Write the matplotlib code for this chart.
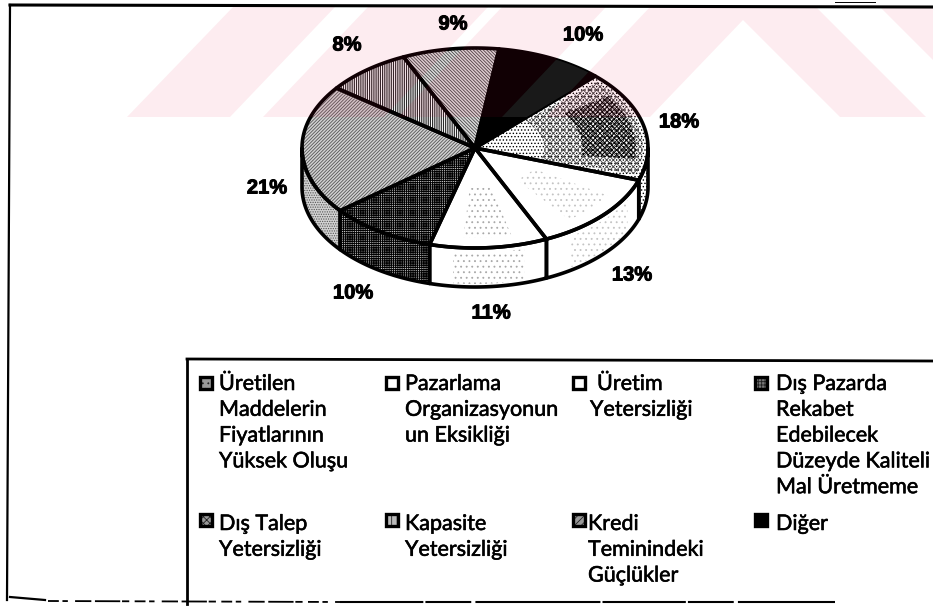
import numpy as np
import matplotlib
matplotlib.use("Agg")
import matplotlib.pyplot as plt
import matplotlib.patheffects as pe
from matplotlib.patches import Polygon, Rectangle

plt.rcParams["font.family"] = ["Lato", "DejaVu Sans"]
plt.rcParams["hatch.linewidth"] = 0.6

# slices clockwise, starting from the black one at the top
pct_values = [10, 18, 13, 11, 10, 21, 8, 9]
pct_labels = ["10%", "18%", "13%", "11%", "10%", "21%", "8%", "9%"]
slice_faces = ["#000000", "#ffffff", "#ffffff", "#ffffff", "#d0d0d0", "#d2d2d2", "#ffffff", "#dddddd"]
slice_hatches = [None, ".....", None, None, "+++++++++", "//////////", "|||||||||", "\\\\\\\\\\\\\\\\\\\\"]
hatch_colors = ["#000000", "#000000", "#000000", "#000000", "#000000", "#555555", "#000000", "#444444"]
wall_hatches = [None, ".....", None, None, "+++++++++", ".......", None, None]
speckle_colors = [None, None, "#c4c4c4", "#a8a8a8", None, None, None, None]

legend_labels = [
    ["Üretilen", "Maddelerin", "Fiyatlarının", "Yüksek Oluşu"],
    ["Pazarlama", "Organizasyonun", "un Eksikliği"],
    ["Üretim", "Yetersizliği"],
    ["Dış Pazarda", "Rekabet", "Edebilecek", "Düzeyde Kaliteli", "Mal Üretmeme"],
    ["Dış Talep", "Yetersizliği"],
    ["Kapasite", "Yetersizliği"],
    ["Kredi", "Teminindeki", "Güçlükler"],
    ["Diğer"],
]
legend_faces = ["#999999", "#ffffff", "#ffffff", "#777777", "#999999", "#bbbbbb", "#999999", "#000000"]
legend_hatches = ["...", None, None, "+++++", "xxxxx", "|||", "/////", None]

# layout, in pixels of the 933x607 picture
cx, cy, rx, ry, depth = 475, 148, 173, 100, 39
start_angle = 82
label_pos = [(583, 35), (679, 122), (632, 275), (491, 313), (353, 293), (267, 188), (347, 45), (453, 24)]
legend_marker = [(206, 383), (392, 383), (579, 383), (761, 383), (206, 520), (392, 520), (579, 520), (761, 520)]
legend_text = [(219, 390), (405, 390), (597, 390), (776, 390), (219, 530), (405, 530), (588, 530), (776, 530)]
legend_indent = [0, 0, -7, 0, 0, 0, 0, 0]
line_pitch = 25.8

fig = plt.figure(figsize=(9.33, 6.07), dpi=100)
ax = fig.add_axes([0, 0, 1, 1])
ax.set_xlim(0, 933)
ax.set_ylim(607, 0)
ax.axis("off")


def rim(a0, a1, r=1.0, n=60):
    t = np.radians(np.linspace(a0, a1, n))
    return np.column_stack([cx + r * rx * np.cos(t), cy - r * ry * np.sin(t)])


def sector(a0, a1, r0, r1):
    return np.vstack([rim(a0, a1, r1), rim(a1, a0, r0)])


# top surface and side wall of each slice
edges = start_angle - np.cumsum([0] + pct_values) * 3.6
for i in range(len(pct_values)):
    a0, a1 = edges[i], edges[i + 1]

    # side wall only where the rim is on the front half
    w0, w1 = min(a0, 0), max(a1, -180)
    if w0 > w1:
        arc = rim(w0, w1)
        wall = np.vstack([arc, arc[::-1] + [0, depth]])
        ax.add_patch(Polygon(wall, facecolor=slice_faces[i], edgecolor=hatch_colors[i],
                             hatch=wall_hatches[i], lw=0, zorder=2))
        if speckle_colors[i]:
            mid = (w0 + w1) / 2
            arc = rim(mid + (w0 - mid) * 0.6, mid - (mid - w1) * 0.6)
            ax.add_patch(Polygon(np.vstack([arc + [0, 5], arc[::-1] + [0, depth - 3]]), fill=False,
                                 edgecolor=speckle_colors[i], hatch="...", lw=0, zorder=2))
        ax.add_patch(Polygon(wall, fill=False, edgecolor="black", lw=2.6, joinstyle="round", zorder=3))

    top = np.vstack([[cx, cy], rim(a0, a1)])
    ax.add_patch(Polygon(top, facecolor=slice_faces[i], edgecolor=hatch_colors[i],
                         hatch=slice_hatches[i], lw=0, zorder=2))
    if speckle_colors[i]:
        mid = (a0 + a1) / 2
        ax.add_patch(Polygon(sector(mid + 0.45 * (a0 - mid), mid - 0.45 * (mid - a1), 0.4, 0.9), fill=False,
                             edgecolor=speckle_colors[i], hatch="...", lw=0, zorder=2))
    if i == 1:
        # the 18% slice gets darker towards the rim
        ax.add_patch(Polygon(sector(a0 - 3, a1 + 3, 0.4, 0.97), fill=False, edgecolor="#444444",
                             hatch="xxxxx", lw=0, zorder=2))
        ax.add_patch(Polygon(sector(a0 - 12, a1 + 12, 0.62, 0.93), fill=False, edgecolor="black",
                             hatch="xxxxxxx", lw=0, zorder=2))
    ax.add_patch(Polygon(top, fill=False, edgecolor="black", lw=2.6, joinstyle="round", zorder=3))

# pale red logo showing through the scan
logo_bands = [
    [(127, 117), (230, 117), (335, 7), (233, 7)],
    [(263, 117), (384, 117), (488, 7), (368, 7)],
    [(398, 117), (502, 117), (606, 7), (502, 7)],
    [(546, 117), (650, 117), (743, 20), (840, 117), (926, 117), (816, 7), (650, 7)],
    [(880, 7), (933, 7), (933, 60)],
]
for band in logo_bands:
    ax.add_patch(Polygon(band, facecolor="#e8003a", alpha=0.075, lw=0, zorder=4))

stripe = ax.add_patch(Polygon([(502, 117), (546, 117), (650, 7), (606, 7)], facecolor="white", alpha=0.1, lw=0, zorder=4))
stripe.set_clip_path(Polygon(np.vstack([[cx, cy], rim(edges[0], edges[1])]), transform=ax.transData))

for txt, (x, y) in zip(pct_labels, label_pos):
    ax.text(x, y, txt, family="Liberation Sans", weight="bold", fontsize=14.5,
            ha="center", va="center", color="black", zorder=6,
            path_effects=[pe.withStroke(linewidth=0.7, foreground="black")])

# legend
for i, lines in enumerate(legend_labels):
    mx, my = legend_marker[i]
    ax.add_patch(Rectangle((mx - 6, my - 6), 12, 12, facecolor=legend_faces[i], edgecolor="#222222",
                           hatch=legend_hatches[i], lw=0, zorder=5))
    ax.add_patch(Rectangle((mx - 6, my - 6), 12, 12, fill=False, edgecolor="black", lw=2.4, zorder=5))
    tx, ty = legend_text[i]
    for j, line in enumerate(lines):
        x = tx + legend_indent[i] if j else tx
        ax.text(x, ty + j * line_pitch, line, fontsize=15.5, ha="left", va="baseline",
                color="black", zorder=6,
                path_effects=[pe.withStroke(linewidth=0.4, foreground="black")])

# frame of the scanned page
ax.plot([10, 933], [5, 7], color="black", lw=2.2, zorder=5)
ax.plot([835, 875], [2, 2], color="black", lw=0.7, zorder=5)
ax.plot([10, 7], [5, 600], color="black", lw=1.6, zorder=5)
ax.plot([187, 933], [359, 361], color="black", lw=2, zorder=5)
ax.plot([187, 187], [359, 604], color="black", lw=2, zorder=5)
ax.plot([10, 45], [597, 600], color="black", lw=1.6, zorder=5)
ax.plot([48, 340], [601, 602], color="black", lw=1.3, ls=(0, (6, 2, 3, 4, 9, 2, 14, 1, 4, 3)), zorder=5)
ax.plot([340, 835], [602, 602], color="black", lw=1.5, ls=(0, (40, 1, 22, 2, 60, 1)), zorder=5)

fig.savefig("out.png", dpi=100)
